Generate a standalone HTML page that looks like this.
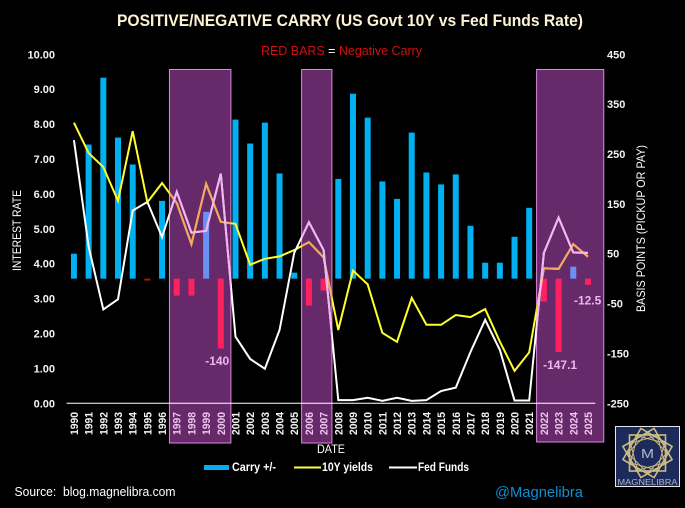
<!DOCTYPE html>
<html lang="en">
<head>
<meta charset="utf-8">
<title>Positive/Negative Carry</title>
<style>
html,body{margin:0;padding:0;background:#000;width:685px;height:508px;overflow:hidden}
svg{display:block;font-family:"Liberation Sans",sans-serif}
text{white-space:pre}
</style>
</head>
<body>
<svg id="chart" width="685" height="508" viewBox="0 0 685 508" xmlns="http://www.w3.org/2000/svg">
<rect width="685" height="508" fill="#000"/>
<text x="350" y="26" text-anchor="middle" font-size="16.5" font-weight="bold" fill="#fdf3d2" textLength="466" lengthAdjust="spacingAndGlyphs">POSITIVE/NEGATIVE CARRY (US Govt 10Y vs Fed Funds Rate)</text>
<text x="341.5" y="55" text-anchor="middle" font-size="13" fill="#d01010" textLength="161" lengthAdjust="spacingAndGlyphs">RED BARS <tspan fill="#fff">=</tspan> Negative Carry</text>
<g id="bands"></g>
<g id="bars"></g>
<g id="lines"></g>
<g id="axes"></g>
<g id="notes"></g>
<text transform="translate(21,271) rotate(-90)" font-size="12" fill="#fff" textLength="81" lengthAdjust="spacingAndGlyphs">INTEREST RATE</text>
<text transform="translate(645,312) rotate(-90)" font-size="12" fill="#fff" textLength="167" lengthAdjust="spacingAndGlyphs">BASIS POINTS (PICKUP OR PAY)</text>
<text x="331" y="453" text-anchor="middle" font-size="11.5" fill="#fff" textLength="28" lengthAdjust="spacingAndGlyphs">DATE</text>
<g>
  <rect x="204" y="465" width="25" height="5" fill="#00b0f0"/>
  <text x="232" y="471" font-size="12" font-weight="bold" fill="#fff" textLength="44" lengthAdjust="spacingAndGlyphs">Carry +/-</text>
  <line x1="294" x2="321" y1="467.5" y2="467.5" stroke="#ffff40" stroke-width="2"/>
  <text x="322" y="471" font-size="12" font-weight="bold" fill="#fff" textLength="51" lengthAdjust="spacingAndGlyphs">10Y yields</text>
  <line x1="389" x2="417" y1="467.5" y2="467.5" stroke="#fff" stroke-width="2"/>
  <text x="418" y="471" font-size="12" font-weight="bold" fill="#fff" textLength="51" lengthAdjust="spacingAndGlyphs">Fed Funds</text>
</g>
<text x="14.5" y="496" font-size="12.5" fill="#fff" textLength="161" lengthAdjust="spacingAndGlyphs">Source:  blog.magnelibra.com</text>
<text x="495" y="497" font-size="15" fill="#0e8fd0" textLength="88" lengthAdjust="spacingAndGlyphs">@Magnelibra</text>
<g>
  <rect x="615.5" y="426.5" width="64" height="60" fill="#1c2a5c" stroke="#e8e8f0" stroke-width="1"/>
  <g transform="translate(647.5,453)" fill="none" stroke="#cdbd80" stroke-width="1.6">
    <rect x="-18" y="-18" width="36" height="36"/>
    <rect x="-18" y="-18" width="36" height="36" transform="rotate(30)"/>
    <rect x="-18" y="-18" width="36" height="36" transform="rotate(60)"/>
    <rect x="-14" y="-14" width="28" height="28" transform="rotate(15)" stroke-width="1"/>
    <rect x="-14" y="-14" width="28" height="28" transform="rotate(45)" stroke-width="1"/>
    <rect x="-14" y="-14" width="28" height="28" transform="rotate(75)" stroke-width="1"/>
    <circle r="10" stroke="#1c2a5c" fill="#1c2a5c"/>
  </g>
  <text x="647.5" y="458" text-anchor="middle" font-size="13" fill="#b8b8c8" textLength="13" lengthAdjust="spacingAndGlyphs">M</text>
  <text x="647.5" y="485" text-anchor="middle" font-size="8" fill="#b4b4c0" textLength="60" lengthAdjust="spacingAndGlyphs">MAGNELIBRA</text>
</g>
</svg>
<script>
const years = ["1990","1991","1992","1993","1994","1995","1996","1997","1998","1999","2000","2001","2002","2003","2004","2005","2006","2007","2008","2009","2010","2011","2012","2013","2014","2015","2016","2017","2018","2019","2020","2021","2022","2023","2024","2025"];
const carryBp = [50,269,403,283,229,-4,156,-34,-34,134,-140,319,271,313,211,12,-54,-24,200,371,323,195,160,293,213,189,209,106,32,32,84,142,-46,-147.1,24,-12.5];
const yields10y = [8.04,7.17,6.77,5.80,7.80,5.76,6.31,5.74,4.56,6.29,5.20,5.14,3.97,4.14,4.21,4.39,4.62,4.18,2.10,3.80,3.41,2.02,1.76,3.02,2.25,2.25,2.53,2.47,2.70,1.77,0.93,1.46,3.87,3.85,4.56,4.20];
const fedFunds = [7.54,4.49,2.69,2.98,5.52,5.77,4.76,6.06,4.89,4.94,6.58,1.91,1.27,0.99,2.10,4.31,5.19,4.39,0.09,0.09,0.16,0.07,0.16,0.07,0.09,0.35,0.45,1.47,2.39,1.53,0.08,0.08,4.31,5.32,4.32,4.31];
const leftTicks = [0,1,2,3,4,5,6,7,8,9,10];
const rightTicks = [-250,-150,-50,50,150,250,350,450];
const bandYears = [["1997","2000"],["2006","2007"],["2022","2025"]];
const barNotes = [["2000","-140"],["2023","-147.1"],["2025","-12.5"]];

const NS = "http://www.w3.org/2000/svg";
const plotLeft = 66.6, plotRight = 595.3, plotBottom = 403.3, plotTop = 54.3;
const xPos = i => plotLeft + (plotRight - plotLeft) * (i + 0.5) / years.length;
const yRate = v => plotBottom - (plotBottom - plotTop) * v / 10;
const yBp = v => plotBottom - (plotBottom - plotTop) * (v + 250) / 700;
const bandRightPad = [10.1, 8.3, 15.8];
const bandBottomY = [443, 443, 442];
const bandRanges = bandYears.map(b => [years.indexOf(b[0]), years.indexOf(b[1])]);
const inBand = i => bandRanges.some(r => i >= r[0] && i <= r[1]);

function make(tag, attrs, parent) {
  const n = document.createElementNS(NS, tag);
  for (const k in attrs) n.setAttribute(k, attrs[k]);
  parent.appendChild(n);
  return n;
}
const bandsG = document.getElementById("bands");
const barsG = document.getElementById("bars");
const linesG = document.getElementById("lines");
const axesG = document.getElementById("axes");
const notesG = document.getElementById("notes");

/* highlight bands and the clip used to tint lines inside them */
const defs = make("defs", {}, bandsG);
const clip = make("clipPath", {id: "bandClip"}, defs);
bandRanges.forEach((r, k) => {
  const x0 = xPos(r[0]) - 7.3;
  const x1 = xPos(r[1]) + bandRightPad[k];
  const band = make("rect", {x: x0, y: 69.5, width: x1 - x0, height: bandBottomY[k] - 69.5, fill: "#662a6a", stroke: "#e184e4", "stroke-width": 1}, bandsG);
  
  
  make("rect", {x: x0, y: 69.5, width: x1 - x0, height: bandBottomY[k] - 69.5}, clip);
});

/* carry bars */
const barWidth = 6;
carryBp.forEach((v, i) => {
  const y0 = yBp(0), y1 = yBp(v);
  const tinted = inBand(i);
  const color = v >= 0 ? (tinted ? "#6b90f5" : "#00b0f0") : (tinted ? "#ff2060" : "#b01010");
  const bar = make("rect", {x: xPos(i) - barWidth / 2, y: Math.min(y0, y1), width: barWidth, height: Math.abs(y1 - y0), fill: color}, barsG);
  
  
});

/* lines */
function drawSeries(values, color, tint, name) {
  const pts = values.map((v, i) => xPos(i) + "," + yRate(v)).join(" ");
  const base = make("polyline", {points: pts, fill: "none", stroke: color, "stroke-width": 2, "stroke-linejoin": "miter"}, linesG);
  
  
  const over = make("polyline", {points: pts, fill: "none", stroke: tint, "stroke-width": 2, "clip-path": "url(#bandClip)"}, linesG);
  
  
}
drawSeries(yields10y, "#ffff30", "#f4a860", "yields-10y-line");
drawSeries(fedFunds, "#ffffff", "#f2b4f2", "fed-funds-line");

/* axes */
const axisLine = make("line", {x1: plotLeft, x2: plotRight, y1: plotBottom, y2: plotBottom, stroke: "#fff", "stroke-width": 1}, axesG);



leftTicks.forEach(v => {
  const t = make("text", {x: 55, y: yRate(v) + 4, "text-anchor": "end", "font-size": 11, "font-weight": "bold", fill: "#f4f4f4"}, axesG);
  t.textContent = v.toFixed(2);
  
  
});
rightTicks.forEach(v => {
  const t = make("text", {x: 607, y: yBp(v) + 4, "font-size": 11, "font-weight": "bold", fill: "#f4f4f4"}, axesG);
  t.textContent = String(v);
  
  
});
years.forEach((yr, i) => {
  const px = xPos(i) + 4;
  const t = make("text", {transform: "translate(" + px + ",435) rotate(-90)", "font-size": 11, "font-weight": "bold", fill: inBand(i) ? "#f0c4f0" : "#f4f4f4", textLength: 23, lengthAdjust: "spacingAndGlyphs"}, axesG);
  t.textContent = yr;
  
  
});

/* printed values under negative bars */
const noteOffsetX = [-15.6, -15.5, -14];
const noteOffsetY = [16.5, 17, 19.5];
barNotes.forEach((n, k) => {
  const i = years.indexOf(n[0]);
  const t = make("text", {x: xPos(i) + noteOffsetX[k], y: yBp(carryBp[i]) + noteOffsetY[k], "font-size": 12, "font-weight": "bold", fill: "#eeb6f0"}, notesG);
  t.textContent = n[1];
  
  
});
</script>
</body>
</html>
